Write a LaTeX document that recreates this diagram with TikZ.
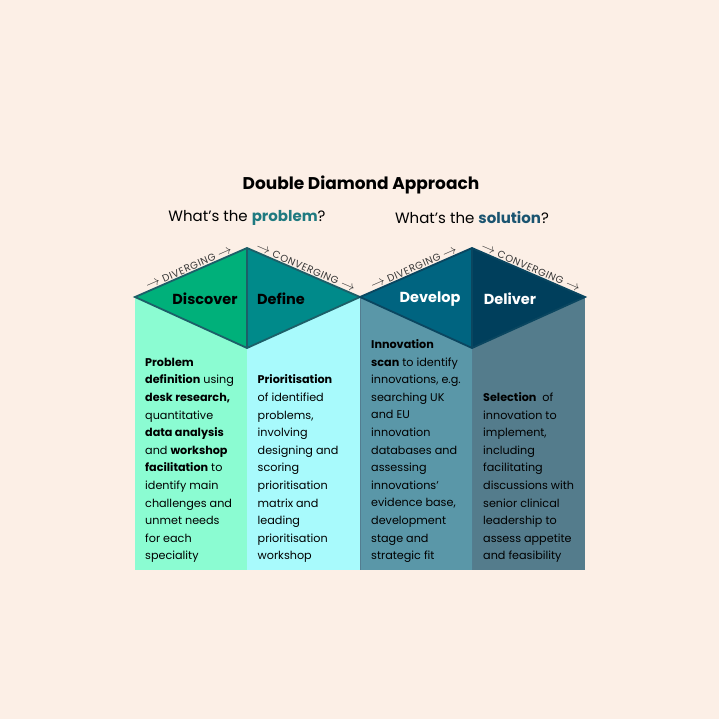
\documentclass[tikz,border=0pt]{standalone}
\usepackage{fontspec}
\setmainfont{Poppins}
\newfontfamily\flowfont[LetterSpace=6]{Poppins}
\usetikzlibrary{positioning}
\usepackage{xcolor}
\definecolor{bgpeach}{RGB}{252,239,230}
\definecolor{discovergreen}{RGB}{0,176,122}
\definecolor{defineteal}{RGB}{0,138,138}
\definecolor{developblue}{RGB}{0,100,128}
\definecolor{delivernavy}{RGB}{0,63,92}
\definecolor{mintcol}{RGB}{139,252,210}
\definecolor{cyancol}{RGB}{168,250,252}
\definecolor{greytealcol}{RGB}{90,151,168}
\definecolor{slatecol}{RGB}{84,124,140}
\definecolor{edgeone}{RGB}{28,95,104}
\definecolor{edgetwo}{RGB}{10,70,96}
\definecolor{problemteal}{RGB}{31,122,128}
\definecolor{solutionblue}{RGB}{26,84,112}
\definecolor{flowgrey}{RGB}{55,55,55}

\newcommand{\flowarrow}{{\fontsize{15}{15}\selectfont$\rightarrow$}}

\tikzset{
  phase/.style={font=\fontsize{14.5}{16}\selectfont\bfseries, inner sep=0pt},
  question/.style={font=\fontsize{15}{18}\selectfont, inner sep=0pt},
  flowlabel/.style={font=\fontsize{10}{12}\flowfont, text=flowgrey, sloped, above, inner sep=1.5pt, midway},
  bodytext/.style={font=\fontsize{11.2}{17.6}\selectfont, align=left, inner sep=0pt, anchor=south west},
  diamondedge/.style={line width=1.8pt, line join=miter}
}

\begin{document}
\begin{tikzpicture}[x=1pt, y=-1pt]
\useasboundingbox (0,0) rectangle (719,719);
\fill[bgpeach] (0,0) rectangle (719,719);

% corners of the two diamonds
\coordinate (dL) at (135,297);
\coordinate (dT1) at (247,248);
\coordinate (dB1) at (247,348);
\coordinate (dM) at (360,297);
\coordinate (dT2) at (472,248);
\coordinate (dB2) at (472,348);
\coordinate (dR) at (585,297);

% columns
\fill[mintcol] (135,297) rectangle (247,570);
\fill[cyancol] (247,297) rectangle (360,570);
\fill[greytealcol] (360,297) rectangle (472,570);
\fill[slatecol] (472,297) rectangle (585,570);
\draw[edgetwo!70, line width=0.8pt] (360.5,297) -- (360.5,570);
\draw[edgetwo!70, line width=0.8pt] (dB2) -- (472,570);

% diamonds
\fill[discovergreen] (dL) -- (dT1) -- (dB1) -- cycle;
\fill[defineteal] (dT1) -- (dM) -- (dB1) -- cycle;
\fill[developblue] (dM) -- (dT2) -- (dB2) -- cycle;
\fill[delivernavy] (dT2) -- (dR) -- (dB2) -- cycle;
\draw[diamondedge, edgeone] (dL) -- (dT1) -- (dM) -- (dB1) -- cycle;
\draw[diamondedge, edgeone] (dT1) -- (dB1);
\draw[diamondedge, edgetwo] (dM) -- (dT2) -- (dR) -- (dB2) -- cycle;
\draw[diamondedge, edgetwo] (dT2) -- (dB2);

% headings
\node[font=\fontsize{17}{20}\selectfont\bfseries, inner sep=0pt] (title) at (361,185) {Double Diamond Approach};
\node[question] (qproblem) at (247,218) {What’s the \textbf{\textcolor{problemteal}{problem}}?};
\node[question] (qsolution) at (472,218) {What’s the \textbf{\textcolor{solutionblue}{solution}}?};

% flow labels along the top edges
\path (dL) -- (dT1) node[flowlabel] (div1) {\flowarrow\ DIVERGING \flowarrow};
\path (dT1) -- (dM) node[flowlabel] (conv1) {\flowarrow\ CONVERGING \flowarrow};
\path (dM) -- (dT2) node[flowlabel] (div2) {\flowarrow\ DIVERGING \flowarrow};
\path (dT2) -- (dR) node[flowlabel] (conv2) {\flowarrow\ CONVERGING \flowarrow};

% phase names
\node[phase] (discover) at (205,299) {Discover};
\node[phase] (define) at (281,299) {Define};
\node[phase, text=white] (develop) at (430,299) {Develop};
\node[phase, text=white] (deliver) at (510,299) {Deliver};

% column texts
\node[bodytext] (txtdiscover) at (145,563) {\textbf{Problem}\\
\textbf{definition} using\\
\textbf{desk research,}\\
quantitative\\
\textbf{data analysis}\\
and \textbf{workshop}\\
\textbf{facilitation} to\\
identify main\\
challenges and\\
unmet needs\\
for each\\
speciality};
\node[bodytext] (txtdefine) at (257.5,563) {\textbf{Prioritisation}\\
of identified\\
problems,\\
involving\\
designing and\\
scoring\\
prioritisation\\
matrix and\\
leading\\
prioritisation\\
workshop};
\node[bodytext] (txtdevelop) at (371,563) {\textbf{Innovation}\\
\textbf{scan} to identify\\
innovations, e.g.\\
searching UK\\
and EU\\
innovation\\
databases and\\
assessing\\
innovations’\\
evidence base,\\
development\\
stage and\\
strategic fit};
\node[bodytext] (txtdeliver) at (483,563) {\textbf{Selection}~ of\\
innovation to\\
implement,\\
including\\
facilitating\\
discussions with\\
senior clinical\\
leadership to\\
assess appetite\\
and feasibility};
\end{tikzpicture}
\end{document}
